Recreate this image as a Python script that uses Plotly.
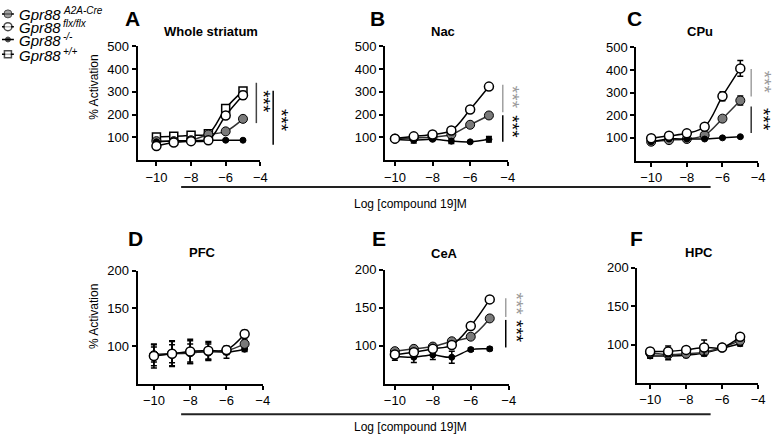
from __future__ import annotations

import plotly.graph_objects as go

W, H = 777, 437
FONT = "Liberation Sans, Arial, sans-serif"

log_conc = [-10, -9, -8, -7, -6, -5]

# A - whole striatum
a_cre = [83, 83, 87, 112, 126, 181]
a_cre_err = [5, 5, 5, 5, 6, 8]
a_flx = [62, 77, 83, 87, 196, 285]
a_flx_err = [5, 5, 5, 5, 8, 18]
a_ko = [80, 85, 85, 87, 87, 87]
a_ko_err = [3, 3, 3, 3, 3, 3]
a_wt = [101, 104, 109, 116, 227, 304]
a_wt_err = [5, 5, 5, 5, 8, 12]

# B - Nac
b_flx = [94, 104, 112, 130, 222, 323]
b_flx_err = [4, 4, 4, 5, 6, 8]
b_cre = [94, 97, 101, 112, 155, 196]
b_cre_err = [4, 4, 4, 5, 6, 8]
b_ko = [91, 87, 91, 83, 80, 91]
b_ko_err = [5, 12, 5, 10, 4, 12]

# C - CPu
c_flx = [98, 109, 120, 149, 284, 407]
c_flx_err = [5, 5, 6, 8, 20, 35]
c_cre = [83, 90, 95, 112, 185, 265]
c_cre_err = [4, 4, 4, 6, 10, 20]
c_ko = [83, 95, 95, 95, 100, 105]
c_ko_err = [3, 3, 3, 3, 3, 3]

# D - PFC
d_flx = [87, 90, 93, 94, 95, 116]
d_flx_err = [16, 17, 16, 12, 5, 5]
d_cre = [88, 90, 92, 93, 94, 103]
d_cre_err = [14, 16, 15, 12, 5, 5]
d_ko = [89, 90, 91, 93, 92, 96]
d_ko_err = [10, 12, 12, 10, 8, 3]

# E - CeA
e_flx = [88.6, 91.6, 96, 101, 126, 161]
e_flx_err = [4, 4, 3, 3, 3, 3]
e_cre = [93, 96, 99, 106, 112, 136]
e_cre_err = [3, 3, 3, 3, 3, 3]
e_ko = [86, 85, 88, 85, 95, 96]
e_ko_err = [5, 7, 6, 8, 2, 2]

# F - HPC
f_flx = [91, 91, 93, 96, 96, 110]
f_flx_err = [4, 7, 3, 10, 3, 3]
f_cre = [89, 87, 88, 90, 96, 105]
f_cre_err = [3, 3, 3, 3, 3, 3]
f_ko = [85, 85, 86, 89, 95, 101]
f_ko_err = [3, 5, 3, 4, 3, 3]

legend_genes = ["Gpr88", "Gpr88", "Gpr88", "Gpr88"]
legend_sups = ["A2A-Cre", "flx/flx", "-/-", "+/+"]
legend_rows = [7, 20, 33, 48]

STYLES = {
    "cre": dict(symbol="circle", size=9, color="#7a7a7a", line=dict(color="black", width=1)),
    "flx": dict(symbol="circle", size=9, color="white", line=dict(color="black", width=1.5)),
    "ko": dict(symbol="circle", size=6, color="black", line=dict(color="black", width=1)),
    "wt": dict(symbol="square", size=8, color="white", line=dict(color="black", width=1.5)),
}


def px_x(p):
    return p / W


def px_y(p):
    return 1 - p / H


# pixel boxes of the six panels: x0, x1, ytop, ybottom, xmin, yrange, tickvals
panels = [
    (138, 262, 40, 155.5, -11.09, [0, 500], [100, 200, 300, 400, 500]),
    (388, 512, 40, 155.5, -10.53, [0, 500], [100, 200, 300, 400, 500]),
    (642, 765, 41, 156, -10.83, [0, 500], [100, 200, 300, 400, 500]),
    (138, 264.5, 268, 383, -10.9, [50, 200], [100, 150, 200]),
    (388, 513, 267, 383, -10.52, [50, 200], [100, 150, 200]),
    (643, 765, 265, 382, -10.71, [50, 200], [100, 150, 200]),
]

panel_series = [
    [("wt", a_wt, a_wt_err), ("cre", a_cre, a_cre_err), ("ko", a_ko, a_ko_err), ("flx", a_flx, a_flx_err)],
    [("cre", b_cre, b_cre_err), ("ko", b_ko, b_ko_err), ("flx", b_flx, b_flx_err)],
    [("cre", c_cre, c_cre_err), ("ko", c_ko, c_ko_err), ("flx", c_flx, c_flx_err)],
    [("ko", d_ko, d_ko_err), ("cre", d_cre, d_cre_err), ("flx", d_flx, d_flx_err)],
    [("ko", e_ko, e_ko_err), ("cre", e_cre, e_cre_err), ("flx", e_flx, e_flx_err)],
    [("ko", f_ko, f_ko_err), ("cre", f_cre, f_cre_err), ("flx", f_flx, f_flx_err)],
]

fig = go.Figure()
layout = {}

for i, (box, series) in enumerate(zip(panels, panel_series), start=1):
    x0, x1, yt, yb, xmin, yr, tv = box
    suffix = "" if i == 1 else str(i)
    for key, vals, err in series:
        st = STYLES[key]
        fig.add_trace(
            go.Scatter(
                x=log_conc,
                y=vals,
                mode="lines+markers",
                line=dict(color="#333333" if key == "cre" else "black", width=1.5, shape="spline", smoothing=1),
                marker=st,
                error_y=dict(type="data", array=err, color="black", thickness=1.5, width=3),
                xaxis="x" + suffix,
                yaxis="y" + suffix,
                showlegend=False,
                cliponaxis=False,
                hoverinfo="skip",
            )
        )
    axis_common = dict(
        showline=True,
        linecolor="black",
        linewidth=2,
        ticks="outside",
        ticklen=4,
        tickwidth=2,
        tickcolor="black",
        showgrid=False,
        zeroline=False,
        tickfont=dict(family=FONT, size=13, color="black"),
    )
    layout["xaxis" + suffix] = dict(
        axis_common,
        domain=[px_x(x0), px_x(x1)],
        range=[xmin, -4],
        tickvals=[-10, -8, -6, -4],
        anchor="y" + suffix,
    )
    layout["yaxis" + suffix] = dict(
        axis_common,
        domain=[px_y(yb), px_y(yt)],
        range=yr,
        tickvals=tv,
        anchor="x" + suffix,
    )

# legend drawn in its own small axis
for key, row in zip(["cre", "flx", "ko", "wt"], legend_rows):
    fig.add_trace(
        go.Scatter(
            x=[1, 7, 13],
            y=[row, row, row],
            mode="lines+markers",
            line=dict(color="black", width=1.5),
            marker=dict(STYLES[key], size=[0, STYLES[key]["size"] - 1, 0]),
            xaxis="x7",
            yaxis="y7",
            showlegend=False,
            cliponaxis=False,
            hoverinfo="skip",
        )
    )
layout["xaxis7"] = dict(domain=[0, px_x(16)], range=[0, 16], visible=False, anchor="y7")
layout["yaxis7"] = dict(domain=[px_y(60), 1], range=[60, 0], visible=False, anchor="x7")

annotations = []


def text(x, y, s, size=13, bold=False, color="black", angle=0, anchor="center"):
    annotations.append(
        dict(
            x=px_x(x), y=px_y(y), xref="paper", yref="paper",
            text=f"<b>{s}</b>" if bold else s,
            showarrow=False, textangle=angle,
            font=dict(family=FONT, size=size, color=color),
            xanchor=anchor, yanchor="middle",
        )
    )


for gene, sup, row in zip(legend_genes, legend_sups, legend_rows):
    text(16, row + 1, f"<i>{gene}</i>", size=15, anchor="left")
    text(61, row - 3, f"<i>{sup}</i>", size=10, anchor="left")

# panel letters and titles
for letter, lx, ly in [("A", 133, 12), ("B", 380, 12), ("C", 640, 12), ("D", 136, 235), ("E", 382, 235), ("F", 642, 235)]:
    text(lx, ly, letter, size=21, bold=True)
for title, tx, ty in [
    ("Whole striatum", 212, 25), ("Nac", 447, 25), ("CPu", 706, 25),
    ("PFC", 204, 250), ("CeA", 448, 251), ("HPC", 705, 250),
]:
    text(tx, ty, title, size=13, bold=True)

text(94, 82, "% Activation", size=12, angle=-90)
text(94, 315, "% Activation", size=12, angle=-90)
text(414, 200, "Log [compound 19]M", size=12)
text(414, 427, "Log [compound 19]M", size=12)

# significance stars
for sx, sy, col in [
    (265, 96, "black"), (284, 115, "black"),
    (517, 92, "#9a9a9a"), (517, 122, "black"),
    (771, 76, "#9a9a9a"), (771, 114, "black"),
    (521, 302, "#9a9a9a"), (521, 330, "black"),
]:
    text(sx, sy, "***", size=19, color=col, angle=90)

shapes = []


def vline(x, y0, y1, color, width=1.5):
    shapes.append(dict(type="line", xref="paper", yref="paper", x0=px_x(x), x1=px_x(x),
                       y0=px_y(y0), y1=px_y(y1), line=dict(color=color, width=width)))


vline(258, 77, 118, "#444444")
vline(275, 85, 140, "black")
vline(507, 79, 107, "#a0a0a0")
vline(507, 110, 137, "black")
vline(758, 63, 91, "#a0a0a0")
vline(758, 101, 128, "#333333")
vline(510, 296, 315, "#a0a0a0")
vline(510, 318, 346, "black")

for hy in [183, 414]:
    shapes.append(dict(type="line", xref="paper", yref="paper", x0=px_x(182), x1=px_x(717),
                       y0=px_y(hy), y1=px_y(hy), line=dict(color="#222222", width=2)))

fig.update_layout(
    width=W,
    height=H,
    margin=dict(l=0, r=0, t=0, b=0),
    paper_bgcolor="white",
    plot_bgcolor="white",
    showlegend=False,
    annotations=annotations,
    shapes=shapes,
    **layout,
)

# pin the figure to the window origin (the page body otherwise adds a margin)
pin = (
    "document.body.style.margin='0';document.body.style.overflow='hidden';"
    "var g=document.querySelector('.plotly-graph-div');"
    "g.style.position='fixed';g.style.top='0px';g.style.left='0px';"
)
fig.write_html("out.html", config={"displayModeBar": False, "staticPlot": True}, post_script=pin)
